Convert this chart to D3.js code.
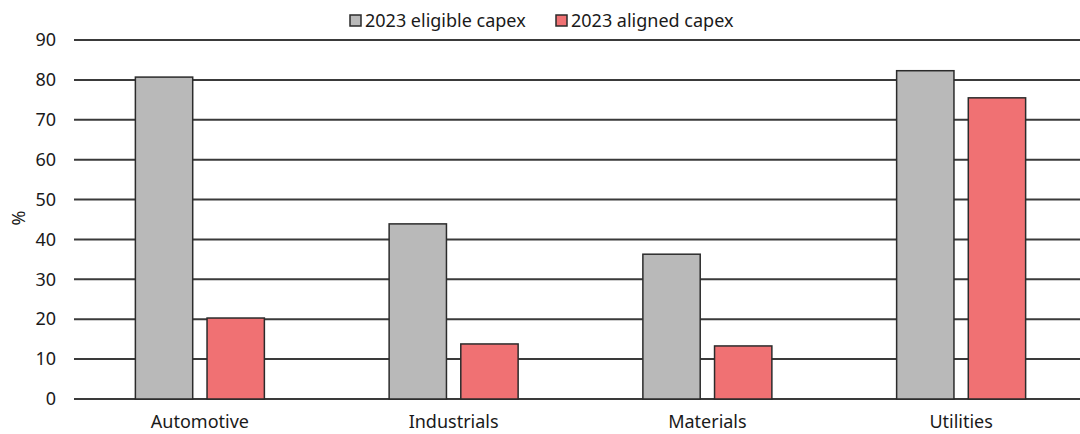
<!DOCTYPE html>
<html>
<head>
<meta charset="utf-8">
<script src="https://cdn.jsdelivr.net/npm/d3@7"></script>
<style>
  body { margin: 0; background: #fff; }
  svg { display: block; font-family: "Noto Sans", sans-serif; }
</style>
</head>
<body>
<script>
// data
let categories = ['Automotive', 'Industrials', 'Materials', 'Utilities'];
let seriesNames = ['2023 eligible capex', '2023 aligned capex'];
let eligible = [80.7, 43.9, 36.3, 82.3];
let aligned = [20.3, 13.8, 13.3, 75.5];
let yTicks = [0, 10, 20, 30, 40, 50, 60, 70, 80, 90];

let colors = ['#b9b9b9', '#f07173'];

let width = 1080;
let height = 434;

let svg = d3.select('body')
    .append('svg')
    .attr('width', width)
    .attr('height', height);

let x = d3.scaleBand()
    .domain(categories)
    .range([73, 1088]);

let inner = d3.scaleBand()
    .domain(seriesNames)
    .range([0, 129])
    .paddingInner(0.2);

let y = d3.scaleLinear()
    .domain([0, 90])
    .range([399, 40]);

// gridlines
svg.append('g')
    .selectAll('line')
    .data(yTicks)
    .enter()
        .append('line')
        .attr('x1', 74)
        .attr('x2', width)
        .attr('y1', d => y(d))
        .attr('y2', d => y(d))
        .attr('stroke', '#3a3a3a')
        .attr('stroke-width', 2);

// y axis labels
let yAxis = d3.axisLeft(y)
    .tickValues(yTicks)
    .tickSize(0)
    .tickPadding(0);

svg.append('g')
    .attr('transform', 'translate(56, 0)')
    .call(yAxis)
    .call(g => g.select('.domain').remove())
    .selectAll('text')
    .attr('font-size', 18)
    .attr('font-family', '"Noto Sans", sans-serif')
    .attr('fill', '#1a1a1a');

svg.append('text')
    .attr('transform', 'translate(25, 218) rotate(-90)')
    .attr('text-anchor', 'middle')
    .attr('font-size', 18)
    .attr('fill', '#1a1a1a')
    .text('%');

// bars
let rows = categories.map((c, i) => ({cat: c, values: [eligible[i], aligned[i]]}));

let groups = svg.append('g')
    .selectAll('g')
    .data(rows)
    .enter()
        .append('g')
        .attr('transform', d => 'translate(' + (x(d.cat) + (x.bandwidth() - 129) / 2) + ', 0)');

groups.selectAll('rect')
    .data(d => d.values.map((v, j) => ({name: seriesNames[j], v: v, j: j})))
    .enter()
        .append('rect')
        .attr('x', d => inner(d.name))
        .attr('width', inner.bandwidth())
        .attr('y', d => y(d.v))
        .attr('height', d => y(0) - y(d.v))
        .attr('fill', d => colors[d.j])
        .attr('stroke', '#2b2b2b')
        .attr('stroke-width', 1.5);

// x axis labels
let xAxis = d3.axisBottom(x)
    .tickSize(0)
    .tickPadding(0);

svg.append('g')
    .attr('transform', 'translate(0, 415)')
    .call(xAxis)
    .call(g => g.select('.domain').remove())
    .selectAll('text')
    .attr('font-size', 18)
    .attr('font-family', '"Noto Sans", sans-serif')
    .attr('fill', '#1a1a1a');

// legend
let legendX = [350, 556];
let legend = svg.append('g')
    .selectAll('g')
    .data(seriesNames)
    .enter()
        .append('g')
        .attr('transform', (d, i) => 'translate(' + legendX[i] + ', 15)');

legend.append('rect')
    .attr('width', 11)
    .attr('height', 11)
    .attr('fill', (d, i) => colors[i])
    .attr('stroke', '#2b2b2b')
    .attr('stroke-width', 1.5);

legend.append('text')
    .attr('x', 15)
    .attr('y', 12)
    .attr('font-size', 18)
    .attr('fill', '#1a1a1a')
    .text(d => d);
</script>
</body>
</html>
